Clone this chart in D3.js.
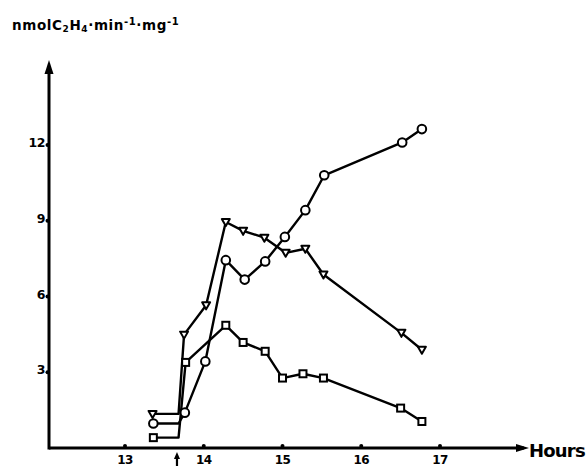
<!DOCTYPE html>
<html>
<head>
<meta charset="utf-8">
<script src="https://cdn.jsdelivr.net/npm/d3@7"></script>
<style>
  html, body { margin: 0; padding: 0; background: #fff; }
  svg { display: block; }
  text { font-family: "DejaVu Sans", "Liberation Sans", sans-serif; font-weight: bold; fill: #000; }
</style>
</head>
<body>
<svg id="chart" width="587" height="466"></svg>
<script>
// ---- data (hours, nmol C2H4 / min / mg) ----
// index 1 in each series is the unmarked corner at the time of addition (arrow)
const triangleHours  = [13.35, 13.68, 13.75, 14.03, 14.28, 14.50, 14.77, 15.04, 15.29, 15.52, 16.51, 16.77];
const triangleValues = [1.35, 1.35, 4.49, 5.65, 8.95, 8.60, 8.33, 7.73, 7.89, 6.87, 4.56, 3.89];

const circleHours  = [13.36, 13.68, 13.76, 14.02, 14.28, 14.52, 14.78, 15.03, 15.29, 15.53, 16.52, 16.77];
const circleValues = [0.97, 0.97, 1.40, 3.43, 7.44, 6.67, 7.39, 8.36, 9.42, 10.80, 12.10, 12.63];

const squareHours  = [13.36, 13.68, 13.77, 14.28, 14.50, 14.78, 15.00, 15.26, 15.52, 16.50, 16.77];
const squareValues = [0.41, 0.41, 3.39, 4.86, 4.18, 3.83, 2.77, 2.94, 2.77, 1.58, 1.05];

const xTicks = [13, 14, 15, 16, 17];
const yTicks = [3, 6, 9, 12];
const additionHour = 13.66;

// ---- layout ----
const svg = d3.select("#chart");
const x = d3.scaleLinear().domain([13, 17]).range([125, 440]);
const y = d3.scaleLinear().domain([0, 12]).range([448, 145]);
const x0 = 49, xEnd = 524, yTop = 62;

// axes
svg.append("line").attr("x1", x0).attr("x2", xEnd).attr("y1", y(0)).attr("y2", y(0))
  .attr("stroke", "#000").attr("stroke-width", 3);
svg.append("line").attr("x1", x0).attr("x2", x0).attr("y1", y(0) + 1.5).attr("y2", yTop + 8)
  .attr("stroke", "#000").attr("stroke-width", 3);
// arrowheads
svg.append("path").attr("d", `M${x0},${yTop - 2} L${x0 - 4.5},${yTop + 12} L${x0 + 4.5},${yTop + 12} Z`).attr("fill", "#000");
svg.append("path").attr("d", `M${xEnd + 5},${y(0)} L${xEnd - 8},${y(0) - 4} L${xEnd - 8},${y(0) + 4} Z`).attr("fill", "#000");

// ticks (small dots on axes)
svg.selectAll(".xt").data(xTicks).join("circle")
  .attr("cx", d => x(d)).attr("cy", y(0) - 2).attr("r", 2).attr("fill", "#000");
svg.selectAll(".yt").data(yTicks).join("circle")
  .attr("cx", x0 - 1.5).attr("cy", d => y(d)).attr("r", 2).attr("fill", "#000");

svg.selectAll(".xl").data(xTicks).join("text")
  .attr("x", d => x(d)).attr("y", 464).attr("text-anchor", "middle")
  .attr("font-size", 12).attr("letter-spacing", -0.5).text(d => d);
svg.selectAll(".yl").data(yTicks).join("text")
  .attr("x", x0 - 4).attr("y", d => y(d) + 2).attr("text-anchor", "end")
  .attr("font-size", 12.5).attr("letter-spacing", -0.5).text(d => d);

// addition arrow
const ax = x(additionHour);
svg.append("line").attr("x1", ax).attr("x2", ax).attr("y1", 457).attr("y2", 468)
  .attr("stroke", "#000").attr("stroke-width", 2.2);
svg.append("path").attr("d", `M${ax},${452} L${ax - 3},${459} L${ax + 3},${459} Z`).attr("fill", "#000");

// axis titles
svg.append("text").attr("x", 529).attr("y", 457).attr("font-size", 18).attr("letter-spacing", -0.8).text("Hours");
const t = svg.append("text").attr("x", 12).attr("y", 30).attr("font-size", 13.5).attr("letter-spacing", 0.6);
t.append("tspan").text("nmolC");
t.append("tspan").attr("font-size", 9).attr("dy", 2).text("2");
t.append("tspan").attr("dy", -2).text("H");
t.append("tspan").attr("font-size", 9).attr("dy", 2).text("4");
t.append("tspan").attr("dy", -2).text("·min");
t.append("tspan").attr("font-size", 10).attr("dy", -5).text("-1");
t.append("tspan").attr("dy", 5).text("·mg");
t.append("tspan").attr("font-size", 10).attr("dy", -5).text("-1");

// series
const series = [
  { hours: triangleHours, values: triangleValues, shape: "tri" },
  { hours: circleHours, values: circleValues, shape: "circle" },
  { hours: squareHours, values: squareValues, shape: "square" }
];
const line = d3.line().x(d => x(d[0])).y(d => y(d[1]));

series.forEach(s => {
  const pts = s.hours.map((h, i) => [h, s.values[i]]);
  svg.append("path").datum(pts).attr("d", line)
    .attr("fill", "none").attr("stroke", "#000").attr("stroke-width", 2.4)
    .attr("stroke-linejoin", "round");
});

series.forEach(s => {
  const pts = s.hours.map((h, i) => [h, s.values[i]]).filter((d, i) => i !== 1);
  const g = svg.append("g");
  if (s.shape === "circle") {
    g.selectAll("circle").data(pts).join("circle")
      .attr("cx", d => x(d[0])).attr("cy", d => y(d[1])).attr("r", 4.3)
      .attr("fill", "#fff").attr("stroke", "#000").attr("stroke-width", 2);
  } else if (s.shape === "square") {
    g.selectAll("rect").data(pts).join("rect")
      .attr("x", d => x(d[0]) - 3.5).attr("y", d => y(d[1]) - 3.5).attr("width", 7).attr("height", 7)
      .attr("fill", "#fff").attr("stroke", "#000").attr("stroke-width", 2);
  } else {
    g.selectAll("path").data(pts).join("path")
      .attr("d", d => { const cx = x(d[0]), cy = y(d[1]); return `M${cx - 4},${cy - 3} L${cx + 4},${cy - 3} L${cx},${cy + 4} Z`; })
      .attr("fill", "#fff").attr("stroke", "#000").attr("stroke-width", 2).attr("stroke-linejoin", "round");
  }
});
</script>
</body>
</html>
